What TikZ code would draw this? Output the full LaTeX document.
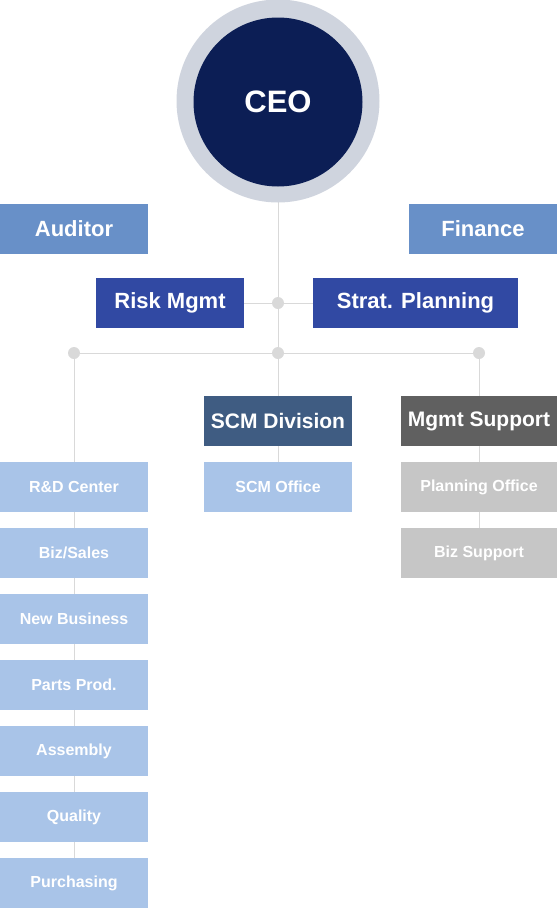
\documentclass[tikz,border=0pt]{standalone}
\usepackage{fontspec}
\setmainfont{Liberation Sans}
\usetikzlibrary{positioning, backgrounds}

\definecolor{ceoblue}{HTML}{0C1E55}
\definecolor{ringgray}{HTML}{CFD4DE}
\definecolor{auditblue}{HTML}{6890C8}
\definecolor{staffblue}{HTML}{3149A3}
\definecolor{scmblue}{HTML}{3F5C82}
\definecolor{mgmtgray}{HTML}{606060}
\definecolor{lightblue}{HTML}{A9C4E8}
\definecolor{lightgray}{HTML}{C6C6C6}
\definecolor{linegray}{HTML}{D9D9D9}

\begin{document}
\begin{tikzpicture}[
  x=1pt, y=-1pt,
  node distance=16pt,
  box/.style={rectangle, inner sep=0pt, outer sep=0pt,
             minimum width=148pt, minimum height=50pt, text=white,
             font=\bfseries\fontsize{16}{18}\selectfont},
  bigbox/.style={box, font=\bfseries\fontsize{22}{26}\selectfont},
  auditbox/.style={bigbox, fill=auditblue},
  staffbox/.style={bigbox, fill=staffblue},
  divbox/.style={bigbox, fill=scmblue, font=\bfseries\fontsize{21}{26}\selectfont},
  supbox/.style={bigbox, fill=mgmtgray, minimum width=156pt,
                font=\bfseries\fontsize{21}{26}\selectfont},
  deptbox/.style={box, fill=lightblue},
  officebox/.style={box, fill=lightgray, minimum width=156pt},
  dot/.style={circle, fill=linegray, inner sep=0pt, minimum size=12pt},
  link/.style={draw=linegray, line width=1pt}
]
\useasboundingbox (0,0) rectangle (557,908);

% CEO
\node[circle, fill=ringgray, minimum size=203pt, inner sep=0pt] (ring) at (278,101) {};
\node[circle, fill=ceoblue, minimum size=169pt, inner sep=0pt, text=white,
      font=\bfseries\fontsize{31}{34}\selectfont] (ceo) at (278,102) {CEO};

% staff
\node[auditbox] (auditor) at (74,229) {Auditor};
\node[auditbox] (finance) at (483,229) {Finance};
\node[staffbox] (risk) at (170,303) {Risk Mgmt};
\node[staffbox, minimum width=205pt] (strat) at (415.5,303) {Strat. Planning};

% branch points
\node[dot] (dstaff) at (278,303) {};
\node[dot] (dleft) at (74,353) {};
\node[dot] (dmid) at (278,353) {};
\node[dot] (dright) at (479,353) {};

% divisions
\node[divbox] (scmdiv) at (278,421) {SCM Division};
\node[supbox] (mgmtsup) at (479,421) {Mgmt Support};
\node[deptbox, below=of scmdiv] (scmoff) {SCM Office};
\node[officebox, below=of mgmtsup] (planoff) {Planning Office};
\node[officebox, below=of planoff] (bizsup) {Biz Support};

% left column
\node[deptbox] (rnd) at (74,487) {R\&D Center};
\node[deptbox, below=of rnd] (sales) {Biz/Sales};
\node[deptbox, below=of sales] (newbiz) {New Business};
\node[deptbox, below=of newbiz] (parts) {Parts Prod.};
\node[deptbox, below=of parts] (assy) {Assembly};
\node[deptbox, below=of assy] (quality) {Quality};
\node[deptbox, below=of quality] (purch) {Purchasing};

\begin{scope}[on background layer]
  \draw[link] (ring.center) -- (scmoff.center);
  \draw[link] (risk) -- (strat);
  \draw[link] (dleft) -- (dright);
  \draw[link] (dleft) -- (purch.center);
  \draw[link] (dright) -- (bizsup.center);
\end{scope}

\end{tikzpicture}
\end{document}
